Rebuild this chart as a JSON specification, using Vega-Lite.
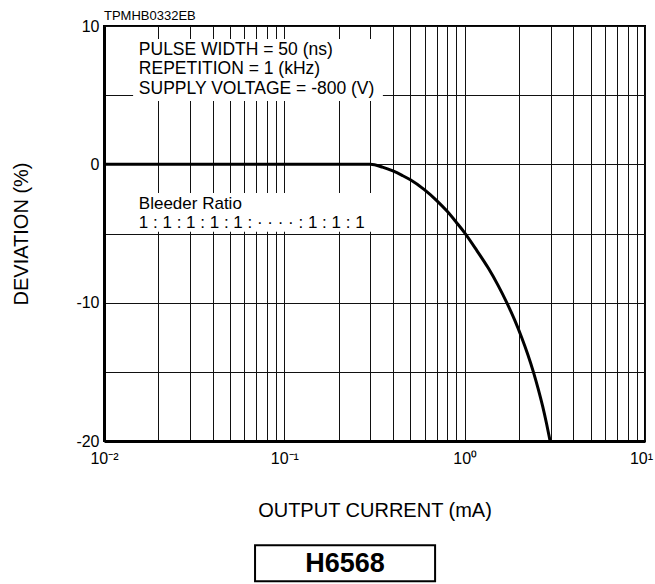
{
  "$schema": "https://vega.github.io/schema/vega-lite/v6.json",
  "width": 541,
  "height": 415,
  "autosize": {"type": "none"},
  "padding": {"left": 104, "top": 26, "right": 10, "bottom": 143},
  "background": "white",
  "title": {"text": "TPMHB0332EB", "anchor": "start", "frame": "group", "fontSize": 13, "fontWeight": "normal", "baseline": "alphabetic", "offset": 0, "dy": 15, "color": "black", "font": "Liberation Sans"},
  "config": {
    "font": "Liberation Sans",
    "view": {"stroke": "black", "strokeWidth": 2}
  },
  "datasets": {
    "curve": [
      {"current": 0.01, "deviation": 0},
      {"current": 0.3, "deviation": 0},
      {"current": 0.35, "deviation": -0.2},
      {"current": 0.4, "deviation": -0.48},
      {"current": 0.45, "deviation": -0.8},
      {"current": 0.5, "deviation": -1.12},
      {"current": 0.6, "deviation": -1.85},
      {"current": 0.7, "deviation": -2.62},
      {"current": 0.8, "deviation": -3.4},
      {"current": 0.9, "deviation": -4.2},
      {"current": 1.0, "deviation": -4.95},
      {"current": 1.171, "deviation": -6.25},
      {"current": 1.352, "deviation": -7.5},
      {"current": 1.532, "deviation": -8.75},
      {"current": 1.712, "deviation": -10},
      {"current": 1.892, "deviation": -11.25},
      {"current": 2.068, "deviation": -12.5},
      {"current": 2.239, "deviation": -13.75},
      {"current": 2.404, "deviation": -15},
      {"current": 2.559, "deviation": -16.25},
      {"current": 2.708, "deviation": -17.5},
      {"current": 2.846, "deviation": -18.75},
      {"current": 2.977, "deviation": -20}
    ]
  },
  "layer": [
    {
      "data": {"values": [{"x1": 0.0145, "x2": 0.352, "y1": 9.06, "y2": 4.58}, {"x1": 0.0145, "x2": 0.33, "y1": -2.07, "y2": -4.87}]},
      "mark": {"type": "rect", "fill": "white", "stroke": null},
      "encoding": {
        "x": {"field": "x1", "type": "quantitative", "scale": {"type": "log", "domain": [0.01, 10], "nice": false}},
        "x2": {"field": "x2"},
        "y": {"field": "y1", "type": "quantitative", "scale": {"domain": [-20, 10], "nice": false, "zero": false}},
        "y2": {"field": "y2"}
      }
    },
    {
      "data": {"name": "curve"},
      "mark": {"type": "line", "color": "black", "strokeWidth": 3, "interpolate": "monotone"},
      "encoding": {
        "x": {
          "field": "current", "type": "quantitative",
          "scale": {"type": "log", "domain": [0.01, 10], "nice": false},
          "axis": {
            "title": "OUTPUT CURRENT (mA)",
            "values": [0.01, 0.02, 0.03, 0.04, 0.05, 0.06, 0.07, 0.08, 0.09, 0.1, 0.2, 0.3, 0.4, 0.5, 0.6, 0.7, 0.8, 0.9, 1, 2, 3, 4, 5, 6, 7, 8, 9, 10],
            "labelExpr": "datum.value == 0.01 ? '10\u207b\u00b2' : datum.value == 0.1 ? '10\u207b\u00b9' : datum.value == 1 ? '10\u2070' : datum.value == 10 ? '10\u00b9' : ''",
            "labelOffset": {"expr": "datum.value == 10 ? -4 : 0"},
            "grid": true, "gridColor": "#111111", "gridWidth": 1, "gridOpacity": 1,
            "ticks": false, "tickSize": 0,
            "domainColor": "black", "domainWidth": 3,
            "labelFontSize": 16, "labelColor": "black", "labelPadding": 9,
            "labelFlush": false, "labelOverlap": false,
            "titleFontSize": 20, "titleFontWeight": "normal", "titleColor": "black", "titlePadding": 34
          }
        },
        "y": {
          "field": "deviation", "type": "quantitative",
          "scale": {"domain": [-20, 10], "nice": false, "zero": false},
          "axis": {
            "title": "DEVIATION (%)",
            "values": [-20, -15, -10, -5, 0, 5, 10],
            "labelExpr": "datum.value == 10 ? '10' : datum.value == 0 ? '0' : datum.value == -10 ? '-10' : datum.value == -20 ? '-20' : ''",
            "grid": true, "gridColor": "#111111", "gridWidth": 1, "gridOpacity": 1,
            "ticks": false, "tickSize": 0,
            "domainColor": "black", "domainWidth": 3,
            "labelFontSize": 16, "labelColor": "black", "labelPadding": 5,
            "labelFlush": false, "labelOverlap": false,
            "titleFontSize": 20, "titleFontWeight": "normal", "titleColor": "black", "titlePadding": 44
          }
        }
      }
    },
    {
      "data": {"values": [{"x": 0.0156, "y": 7.9}]},
      "mark": {"type": "text", "align": "left", "baseline": "alphabetic", "fontSize": 17.5, "lineHeight": 19.3, "color": "black",
        "text": ["PULSE WIDTH = 50 (ns)", "REPETITION = 1 (kHz)", "SUPPLY VOLTAGE = -800 (V)"]},
      "encoding": {
        "x": {"field": "x", "type": "quantitative", "scale": {"type": "log", "domain": [0.01, 10], "nice": false}},
        "y": {"field": "y", "type": "quantitative", "scale": {"domain": [-20, 10], "nice": false, "zero": false}}
      }
    },
    {
      "data": {"values": [{"x": 0.0156, "y": -3.23}]},
      "mark": {"type": "text", "align": "left", "baseline": "alphabetic", "fontSize": 17, "lineHeight": 18.5, "color": "black",
        "text": ["Bleeder Ratio", "1 : 1 : 1 : 1 : 1 : \u00b7 \u00b7 \u00b7 \u00b7 : 1 : 1 : 1"]},
      "encoding": {
        "x": {"field": "x", "type": "quantitative", "scale": {"type": "log", "domain": [0.01, 10], "nice": false}},
        "y": {"field": "y", "type": "quantitative", "scale": {"domain": [-20, 10], "nice": false, "zero": false}}
      }
    },
    {
      "data": {"values": [{"x1": 0.0688, "x2": 0.6855, "y1": -27.53, "y2": -30.13}]},
      "mark": {"type": "rect", "fill": "white", "stroke": "black", "strokeWidth": 2, "clip": false},
      "encoding": {
        "x": {"field": "x1", "type": "quantitative", "scale": {"type": "log", "domain": [0.01, 10], "nice": false}},
        "x2": {"field": "x2"},
        "y": {"field": "y1", "type": "quantitative", "scale": {"domain": [-20, 10], "nice": false, "zero": false}},
        "y2": {"field": "y2"}
      }
    },
    {
      "data": {"values": [{"x": 0.2172, "y": -29.46, "label": "H6568"}]},
      "mark": {"type": "text", "align": "center", "baseline": "alphabetic", "fontSize": 27, "fontWeight": "bold", "color": "black", "clip": false},
      "encoding": {
        "x": {"field": "x", "type": "quantitative", "scale": {"type": "log", "domain": [0.01, 10], "nice": false}},
        "y": {"field": "y", "type": "quantitative", "scale": {"domain": [-20, 10], "nice": false, "zero": false}},
        "text": {"field": "label"}
      }
    }
  ]
}
